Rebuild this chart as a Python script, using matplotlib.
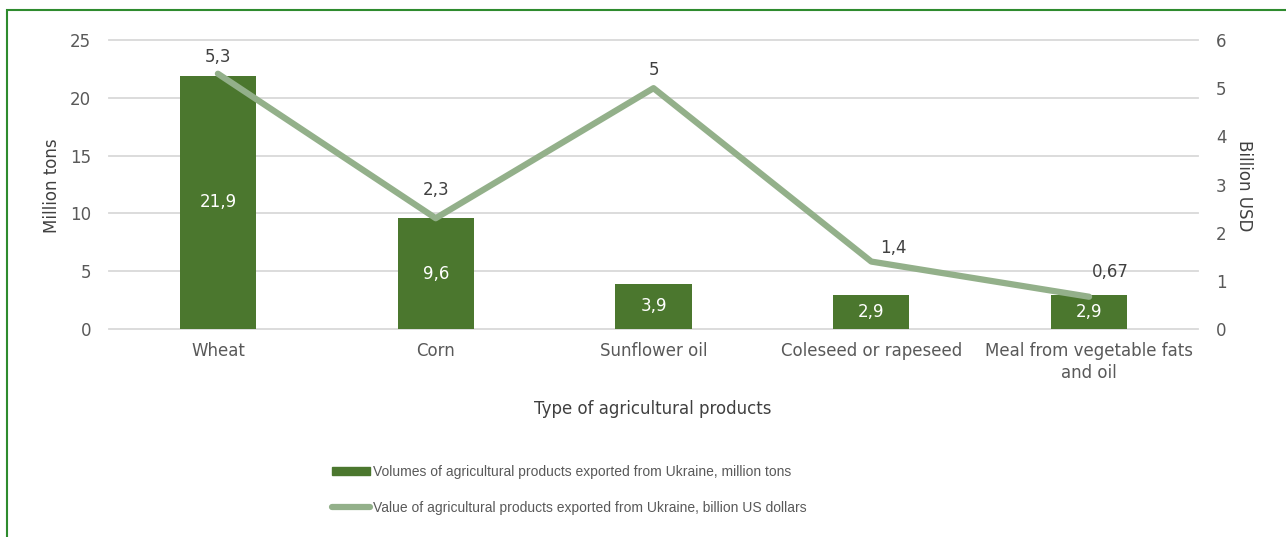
import matplotlib.pyplot as plt
import matplotlib.patches as mpatches
from matplotlib.lines import Line2D
import numpy as np

categories = ['Wheat', 'Corn', 'Sunflower oil', 'Coleseed or rapeseed', 'Meal from vegetable fats\nand oil']
volumes = [21.9, 9.6, 3.9, 2.9, 2.9]
values = [5.3, 2.3, 5.0, 1.4, 0.67]
volume_labels = ['21,9', '9,6', '3,9', '2,9', '2,9']
value_labels = ['5,3', '2,3', '5', '1,4', '0,67']

bar_color = '#4b772e'
line_color = '#93b08a'
text_color = '#595959'
fs = 12

plt.rcParams['font.family'] = ['DejaVu Sans']

fig = plt.figure(figsize=(12.86, 5.37), dpi=100)
W, H = 1286, 537

# green frame around the chart (right and bottom edges fall outside the picture)
fig.patches.append(mpatches.Rectangle((7 / W, -0.1), 1.2, 1 - 10 / H + 0.1, transform=fig.transFigure,
                                      fill=False, edgecolor='#2e8b2e', linewidth=1.5))

ax = fig.add_axes([109 / W, 1 - 329 / H, (1198 - 109) / W, (329 - 40) / H])
x = np.arange(len(categories))
ax.bar(x, volumes, width=0.35, color=bar_color, zorder=3)
ax.set_xlim(-0.5, len(categories) - 0.5)
ax.set_ylim(0, 25)
ax.set_yticks([0, 5, 10, 15, 20, 25])
ax.yaxis.grid(True, color='#d9d9d9', linewidth=1.3, zorder=0)
for gl in ax.get_ygridlines():
    gl.set_clip_on(False)
for s in ax.spines.values():
    s.set_visible(False)
ax.tick_params(axis='both', length=0, colors=text_color, labelsize=fs)
ax.tick_params(axis='y', pad=13)
ax.tick_params(axis='x', pad=9)
ax.set_xticks(x)
ax.set_xticklabels(categories, color=text_color, linespacing=1.35)

for xi, v, t in zip(x, volumes, volume_labels):
    ax.text(xi, v / 2, t, ha='center', va='center', color='white', fontsize=fs, zorder=5)

ax2 = ax.twinx()
ax2.plot(x, values, color=line_color, linewidth=4.5, solid_capstyle='round', zorder=4)
ax2.set_ylim(0, 6)
ax2.set_yticks([0, 1, 2, 3, 4, 5, 6])
for s in ax2.spines.values():
    s.set_visible(False)
ax2.tick_params(axis='y', length=0, colors=text_color, labelsize=fs, pad=13)

# data labels of the line, nudged like the original
label_offsets = [(0, 12), (0, 20), (0, 13), (16, 10), (15, 18)]
for xi, v, t, off in zip(x, values, value_labels, label_offsets):
    ax2.annotate(t, (xi, v), xytext=off, textcoords='offset points', ha='center', va='center',
                 color='#404040', fontsize=fs, zorder=6)

fig.text(52 / W, 1 - 186 / H, 'Million tons', rotation=90, ha='center', va='center',
         color='#404040', fontsize=fs)
fig.text(1244 / W, 1 - 186 / H, 'Billion USD', rotation=-90, ha='center', va='center',
         color='#404040', fontsize=fs)
fig.text(653 / W, 1 - 409 / H, 'Type of agricultural products', ha='center', va='center',
         color='#404040', fontsize=fs)

handles = [mpatches.Patch(color=bar_color),
           Line2D([0], [0], color=line_color, linewidth=4.5, solid_capstyle='round')]
labels = ['Volumes of agricultural products exported from Ukraine, million tons',
          'Value of agricultural products exported from Ukraine, billion US dollars']
leg = fig.legend(handles, labels, loc='center left', bbox_to_anchor=(332 / W, 1 - 490 / H), frameon=False,
                 prop={'family': ['Liberation Sans', 'DejaVu Sans'], 'size': 10},
                 labelcolor=text_color, handlelength=2.7, handleheight=0.5,
                 handletextpad=0.28, labelspacing=1.55, borderpad=0, borderaxespad=0)

plt.savefig('out.png', dpi=100)
